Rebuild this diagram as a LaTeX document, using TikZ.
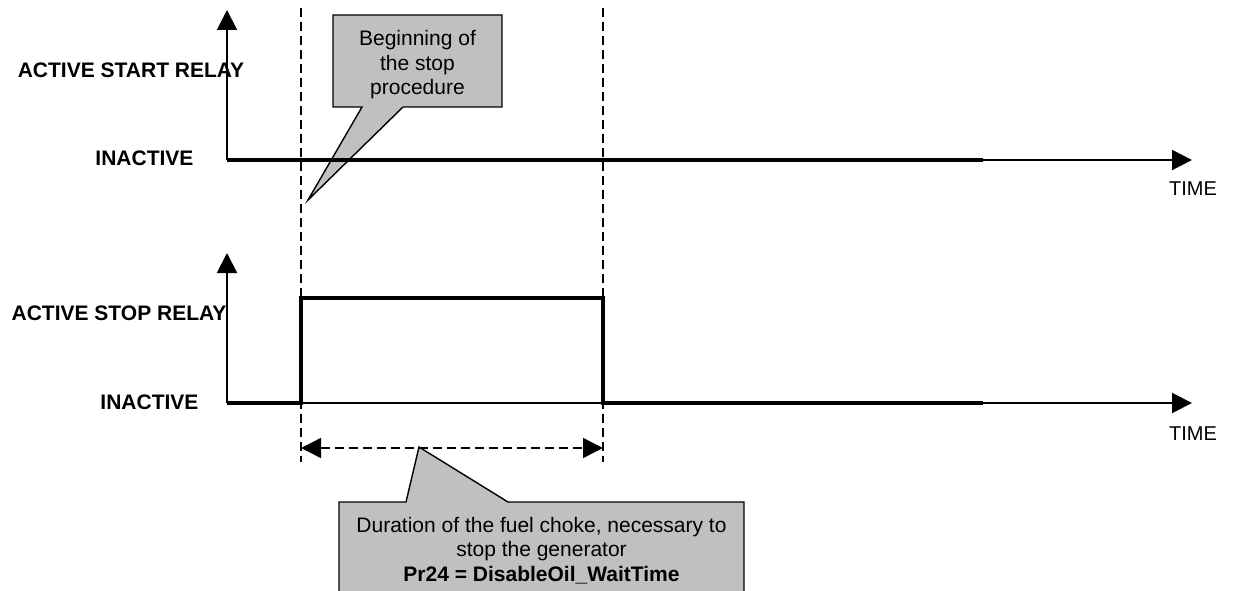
\documentclass[tikz,border=0pt]{standalone}
\usepackage{fontspec}
\setmainfont{Liberation Sans}
\usetikzlibrary{arrows.meta}
\definecolor{balloon}{HTML}{C0C0C0}

\begin{document}
\begin{tikzpicture}[x=1pt,y=-1pt]
	\tikzstyle{axis}=[line width=2pt,-{Triangle[length=20pt,width=20pt]}]
	\tikzstyle{signal}=[line width=4.5pt,line join=miter]
	\tikzstyle{guide}=[line width=1.4pt,dash pattern=on 9pt off 5pt]
	\tikzstyle{span}=[guide,{Triangle[length=20pt,width=20pt]}-{Triangle[length=20pt,width=20pt]}]
	\tikzstyle{balloonshape}=[draw=black,fill=balloon,line width=1.4pt,line join=miter]
	\tikzstyle{level}=[font=\fontsize{21}{25}\selectfont\bfseries,inner sep=0pt,anchor=base]
	\tikzstyle{timelabel}=[font=\fontsize{20}{24}\selectfont,inner sep=0pt,anchor=base]
	\tikzstyle{note}=[font=\fontsize{21}{24.5}\selectfont,align=center,inner sep=0pt,anchor=base]

	\useasboundingbox (0,0) rectangle (1236,591);
	\clip (0,0) rectangle (1236,591);

	% axis origins and signal corners
	\coordinate (o1) at (227,160);
	\coordinate (y1) at (227,10);
	\coordinate (t1) at (1192,160);
	\coordinate (e1) at (983,160);
	\coordinate (o2) at (227,403);
	\coordinate (y2) at (227,253);
	\coordinate (t2) at (1192,403);
	\coordinate (r1) at (301,403);
	\coordinate (r2) at (301,298);
	\coordinate (f1) at (603,298);
	\coordinate (f2) at (603,403);
	\coordinate (e2) at (983,403);
	\coordinate (g1) at (301,8);
	\coordinate (g2) at (301,462);
	\coordinate (g3) at (603,8);
	\coordinate (g4) at (603,462);
	\coordinate (d1) at (301,448);
	\coordinate (d2) at (603,448);

	% balloons
	\draw [balloonshape] (333,15) -- (502,15) -- (502,107) -- (403,107) -- (308,200)
		-- (362,107) -- (333,107) -- cycle;
	\draw [balloonshape] (339,502) -- (406,502) -- (419,447) -- (508,502) -- (744,502)
		-- (744,600) -- (339,600) -- cycle;

	\node [note] (begin) at (417.5,95) {Beginning of\\the stop\\procedure};
	\node [note] (duration) at (541.5,581) {Duration of the fuel choke, necessary to\\stop the generator\\\textbf{Pr24 = DisableOil\_WaitTime}};

	% guides
	\draw [guide] (g1) -- (g2);
	\draw [guide] (g3) -- (g4);
	\draw [span] (d1) -- (d2);

	% start relay
	\draw [axis] (o1) -- (y1);
	\draw [axis] (o1) -- (t1);
	\draw [signal] (o1) -- (e1);

	% stop relay
	\draw [axis] (o2) -- (y2);
	\draw [axis] (o2) -- (t2);
	\draw [signal] (o2) -- (r1) -- (r2) -- (f1) -- (f2) -- (e2);

	\node [level] (startactive) at (131,77.5) {ACTIVE START RELAY};
	\node [level] (startidle) at (144.5,165.5) {INACTIVE};
	\node [level] (stopactive) at (119,320.5) {ACTIVE STOP RELAY};
	\node [level] (stopidle) at (149.5,409.5) {INACTIVE};
	\node [timelabel] (time1) at (1193,195) {TIME};
	\node [timelabel] (time2) at (1193,440) {TIME};
\end{tikzpicture}
\end{document}
